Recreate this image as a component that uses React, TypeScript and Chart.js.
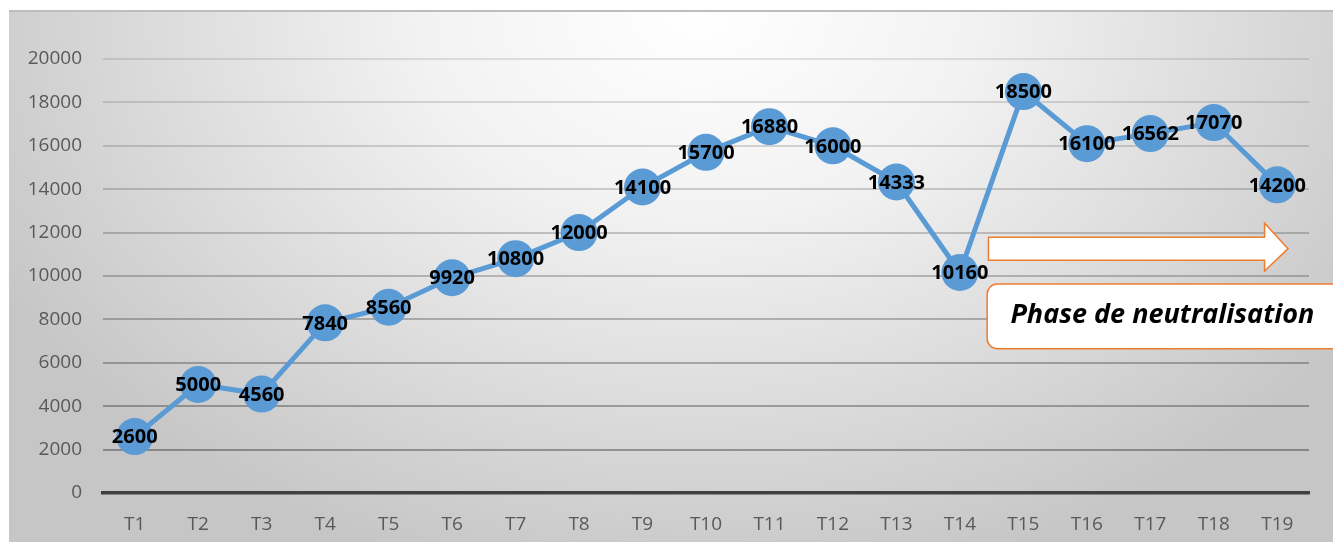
import { useEffect, useRef } from "react";
import { Chart, registerables } from "chart.js";

Chart.register(...registerables);

// Periods and observed values
const periods = [
  "T1", "T2", "T3", "T4", "T5", "T6", "T7", "T8", "T9", "T10",
  "T11", "T12", "T13", "T14", "T15", "T16", "T17", "T18", "T19",
];
const values = [
  2600, 5000, 4560, 7840, 8560, 9920, 10800, 12000, 14100, 15700,
  16880, 16000, 14333, 10160, 18500, 16100, 16562, 17070, 14200,
];
const yMin = 0;
const yMax = 20000;
const yStep = 2000;
const phaseLabel = "Phase de neutralisation";

const LINE_BLUE = "#5B9BD5";
const ORANGE = "#ED7D31";

// Value labels centred on each marker
const valueLabels = {
  id: "valueLabels",
  afterDatasetsDraw(chart: any) {
    const { ctx } = chart;
    const meta = chart.getDatasetMeta(0);
    ctx.save();
    ctx.font = "bold 20px 'Open Sans', 'Liberation Sans', sans-serif";
    ctx.fillStyle = "#000000";
    ctx.textAlign = "center";
    ctx.textBaseline = "middle";
    meta.data.forEach((pt: any, i: number) => {
      ctx.fillText(String(values[i]), pt.x, pt.y + 1);
    });
    ctx.restore();
  },
};

// Arrow and caption box marking the last phase
const phaseCallout = {
  id: "phaseCallout",
  beforeDatasetsDraw(chart: any) {
    const { ctx } = chart;
    const xs = chart.scales.x;
    const ys = chart.scales.y;
    const X = (v: number) => xs.getPixelForValue(v);
    const Y = (v: number) => ys.getPixelForValue(v);
    ctx.save();

    // Block arrow
    const x0 = X(13.45);
    const xBase = X(17.8);
    const xTip = X(18.17);
    const bTop = Y(11790);
    const bBot = Y(10730);
    const hTop = Y(12430);
    const hBot = Y(10230);
    const mid = (bTop + bBot) / 2;
    ctx.beginPath();
    ctx.moveTo(x0, bTop);
    ctx.lineTo(xBase, bTop);
    ctx.lineTo(xBase, hTop);
    ctx.lineTo(xTip, mid);
    ctx.lineTo(xBase, hBot);
    ctx.lineTo(xBase, bBot);
    ctx.lineTo(x0, bBot);
    ctx.closePath();
    ctx.fillStyle = "#ffffff";
    ctx.fill();
    ctx.lineWidth = 1.5;
    ctx.strokeStyle = ORANGE;
    ctx.stroke();

    // Rounded caption box
    const bx = X(13.43);
    const bRight = chart.width + 20;
    const by = Y(9630);
    const bBottom = Y(6650);
    const r = 10;
    ctx.beginPath();
    ctx.moveTo(bx + r, by);
    ctx.lineTo(bRight - r, by);
    ctx.arcTo(bRight, by, bRight, by + r, r);
    ctx.lineTo(bRight, bBottom - r);
    ctx.arcTo(bRight, bBottom, bRight - r, bBottom, r);
    ctx.lineTo(bx + r, bBottom);
    ctx.arcTo(bx, bBottom, bx, bBottom - r, r);
    ctx.lineTo(bx, by + r);
    ctx.arcTo(bx, by, bx + r, by, r);
    ctx.closePath();
    ctx.fillStyle = "#ffffff";
    ctx.fill();
    ctx.lineWidth = 1.5;
    ctx.strokeStyle = ORANGE;
    ctx.stroke();

    ctx.font = "italic bold 27px 'Open Sans', 'Liberation Sans', sans-serif";
    ctx.fillStyle = "#000000";
    ctx.textAlign = "center";
    ctx.textBaseline = "middle";
    ctx.fillText(phaseLabel, X(16.19), Y(8211));
    ctx.restore();
  },
};

export default function App() {
  const canvasRef = useRef<HTMLCanvasElement | null>(null);

  useEffect(() => {
    if (!canvasRef.current) return;
    const chart = new Chart(canvasRef.current, {
      type: "line",
      data: {
        labels: periods,
        datasets: [
          {
            data: values,
            borderColor: LINE_BLUE,
            backgroundColor: LINE_BLUE,
            borderWidth: 5,
            pointRadius: 18.5,
            pointHoverRadius: 18.5,
            pointBackgroundColor: LINE_BLUE,
            pointBorderColor: LINE_BLUE,
            pointBorderWidth: 0,
            tension: 0,
          },
        ],
      },
      options: {
        responsive: false,
        animation: false,
        events: [],
        layout: { padding: { top: 47, right: 24, left: 0, bottom: 0 } },
        plugins: {
          legend: { display: false },
          tooltip: { enabled: false },
          title: { display: false },
        },
        scales: {
          x: {
            offset: true,
            grid: { display: false, drawTicks: false, offset: true },
            border: { display: true, color: "#404040", width: 3.5 },
            ticks: {
              color: "#595959",
              padding: 20,
              font: { family: "'Open Sans', sans-serif", size: 19 },
            },
            afterFit(scale: any) {
              scale.height = 49;
            },
          },
          y: {
            min: yMin,
            max: yMax,
            grid: {
              drawTicks: false,
              lineWidth: 2,
              color: (c: any) => {
                const t = c.tick ? c.tick.value / yMax : 0;
                const a = 0.34 - 0.24 * t;
                return c.tick && c.tick.value === 0 ? "rgba(0,0,0,0)" : `rgba(0,0,0,${a.toFixed(3)})`;
              },
            },
            border: { display: false },
            ticks: {
              stepSize: yStep,
              color: "#595959",
              padding: 21,
              font: { family: "'Open Sans', sans-serif", size: 19 },
              callback: (v: any) => String(v),
            },
            afterFit(scale: any) {
              scale.width = 94;
            },
          },
        },
      },
      plugins: [phaseCallout, valueLabels],
    });
    return () => chart.destroy();
  }, []);

  return (
    <div
      style={{
        position: "absolute",
        left: 9,
        top: 10,
        width: 1324,
        height: 532,
        borderTop: "2px solid #bdbdbd",
        boxSizing: "border-box",
        background:
          "radial-gradient(ellipse 60% 110% at 52% 0%, #ffffff 0%, #f2f2f2 35%, #d9d9d9 72%, #c6c6c6 100%)",
        overflow: "hidden",
      }}
    >
      <canvas ref={canvasRef} width={1324} height={530} style={{ display: "block" }} />
    </div>
  );
}
